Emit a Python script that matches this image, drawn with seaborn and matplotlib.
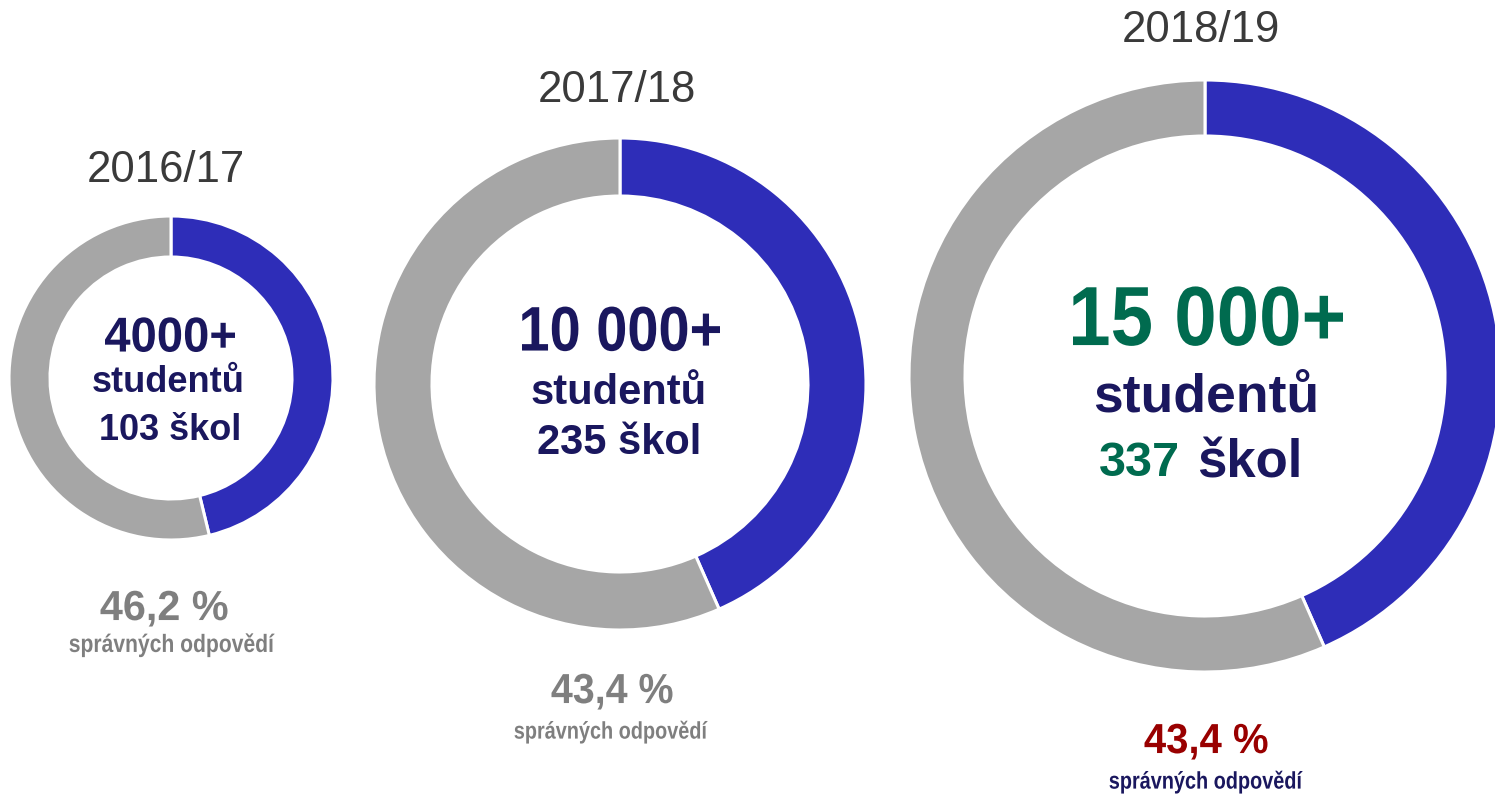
import matplotlib

matplotlib.use("Agg")

import matplotlib.pyplot as plt
import seaborn as sns
from matplotlib.font_manager import FontProperties
from matplotlib.patches import PathPatch
from matplotlib.textpath import TextPath
from matplotlib.transforms import Affine2D

# data
YEARS = ["2016/17", "2017/18", "2018/19"]
CORRECT_PCT = [46.2, 43.4, 43.4]
STUDENTS = ["4000+", "10 000+", "15 000+"]
SCHOOLS = [103, 235, 337]

W, H = 1495, 794
BLUE = "#2E2DB8"
GREY = "#A6A6A6"
NAVY = "#1A175E"
GREEN = "#006B4F"
RED = "#990000"
TXT_GREY = "#7F7F7F"
YEAR_COL = "#3A3A3A"

# layout in pixels (x, y from top)
CENTERS = [(171, 378), (620, 384), (1205, 376)]
RADII = [162, 246, 296]
RING = [41, 58, 56]

sns.set_theme(style="white")
plt.rcParams["font.family"] = ["Liberation Sans", "DejaVu Sans"]
BOLD = FontProperties(family="Liberation Sans", weight="bold")

fig = plt.figure(figsize=(W / 100, H / 100), dpi=100)
ax = fig.add_axes([0, 0, 1, 1])

for i, pct in enumerate(CORRECT_PCT):
    cx, cy = CENTERS[i]
    ax.pie(
        [pct, 100 - pct],
        colors=[BLUE, GREY],
        startangle=90,
        counterclock=False,
        center=(cx, H - cy),
        radius=RADII[i],
        wedgeprops=dict(width=RING[i], edgecolor="white", linewidth=2.2),
    )

ax.set_xlim(0, W)
ax.set_ylim(0, H)
ax.set_aspect("equal")
ax.axis("off")


def put(x, y, s, size, color, weight="bold", ha="center"):
    ax.text(x, H - y, s, fontsize=size, color=color, fontweight=weight,
            ha=ha, va="center")


def narrow(x, y, s, px, width, color):
    # bold text squeezed to a given width (the original uses a narrow face)
    tp = TextPath((0, 0), s, size=px, prop=BOLD)
    ext = tp.get_extents()
    sx = width / ext.width
    tr = (Affine2D()
          .translate(-(ext.x0 + ext.width / 2), -0.716 * px / 2)
          .scale(sx, 1)
          .translate(x, H - y))
    ax.add_patch(PathPatch(tr.transform_path(tp), facecolor=color, edgecolor="none", lw=0))


def pct_label(v):
    return f"{v:.1f}".replace(".", ",") + " %"


# year titles
put(166, 170, YEARS[0], 31.5, YEAR_COL, weight="normal")
put(617, 91, YEARS[1], 31.5, YEAR_COL, weight="normal")
put(1201, 31, YEARS[2], 31.5, YEAR_COL, weight="normal")

# 2016/17
narrow(170, 334, STUDENTS[0], 49, 130, NAVY)
put(168, 383, "studentů", 26, NAVY)
put(170, 431, f"{SCHOOLS[0]} škol", 26, NAVY)
narrow(164, 605, pct_label(CORRECT_PCT[0]), 42, 127, TXT_GREY)
narrow(172, 643, "správných odpovědí", 25, 205, TXT_GREY)

# 2017/18
narrow(621, 328, STUDENTS[1], 63, 198, NAVY)
put(619, 393, "studentů", 30, NAVY)
put(619, 443, f"{SCHOOLS[1]} škol", 30, NAVY)
narrow(612, 688, pct_label(CORRECT_PCT[1]), 42, 121, TXT_GREY)
narrow(611, 730, "správných odpovědí", 24, 193, TXT_GREY)

# 2018/19
narrow(1208, 315, STUDENTS[2], 84, 270, GREEN)
put(1206, 398, "studentů", 38.5, NAVY)
put(1180, 463, str(SCHOOLS[2]), 35, GREEN, ha="right")
put(1197, 463, "škol", 38, NAVY, ha="left")
narrow(1206, 738, pct_label(CORRECT_PCT[2]), 42, 123, RED)
narrow(1206, 780, "správných odpovědí", 24, 193, NAVY)

fig.savefig("out.png", dpi=100)
